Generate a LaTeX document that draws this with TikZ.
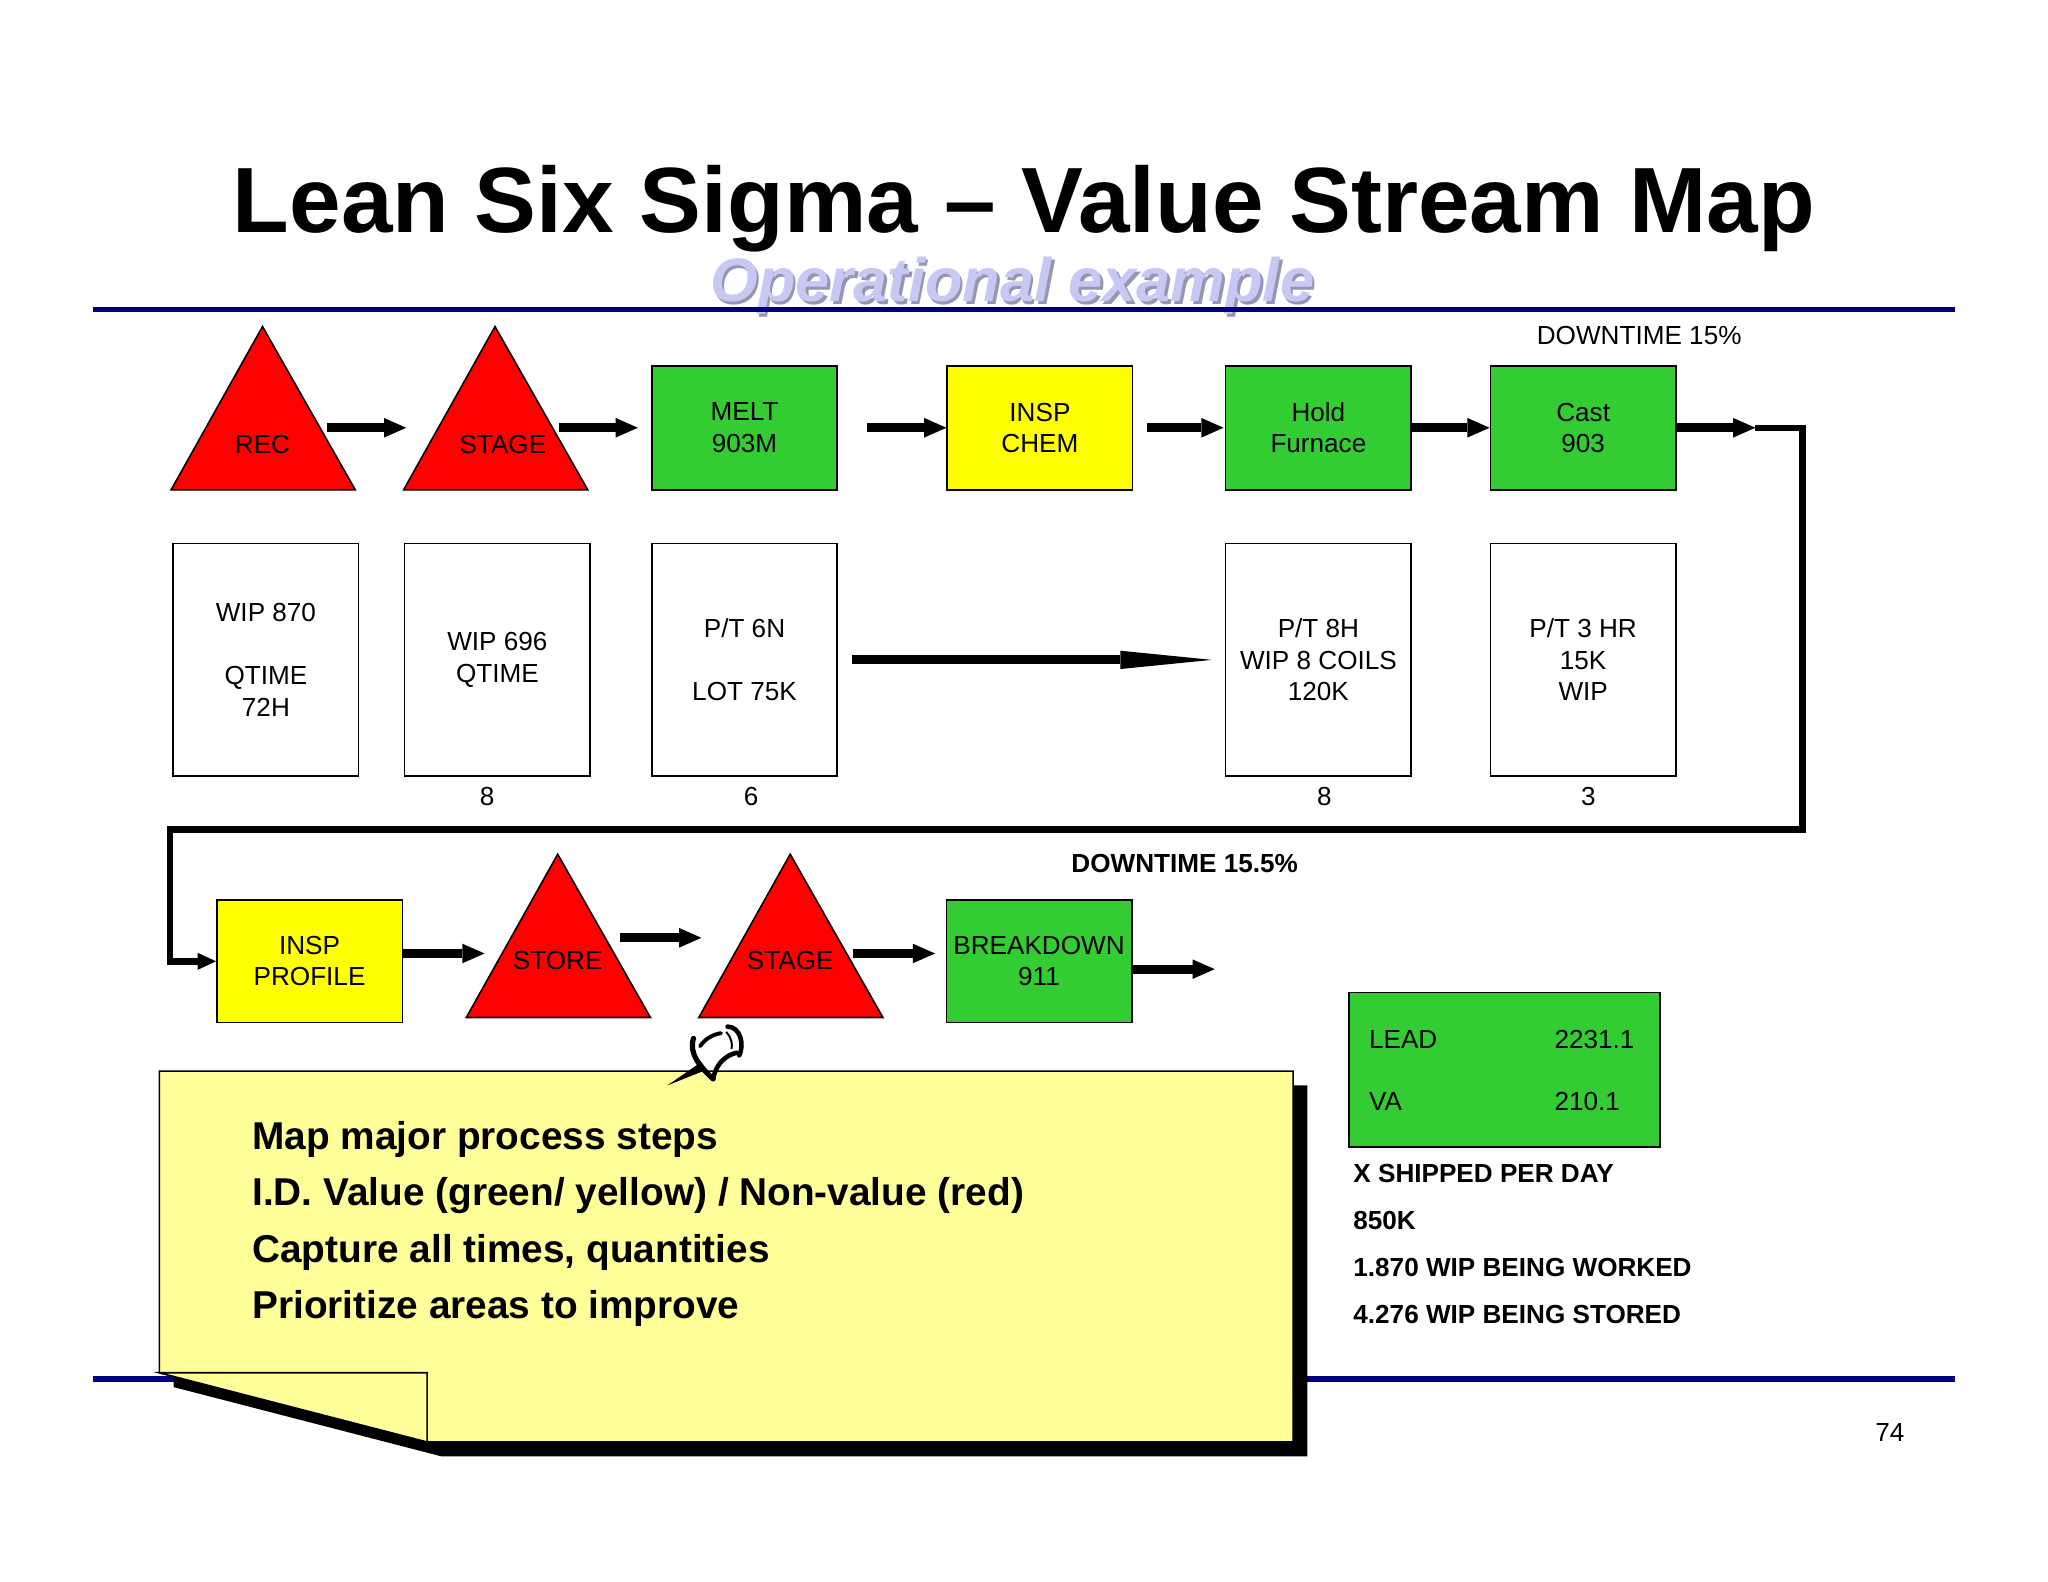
\documentclass[tikz,border=0pt]{standalone}
\usepackage{fontspec}
\setmainfont{Liberation Sans}
\usetikzlibrary{positioning,arrows.meta}

\definecolor{vsmred}{RGB}{255,0,0}
\definecolor{vsmgreen}{RGB}{51,204,51}
\definecolor{vsmyellow}{RGB}{255,255,0}
\definecolor{notefill}{RGB}{255,255,153}
\definecolor{rulenavy}{RGB}{0,0,128}
\definecolor{sublilac}{RGB}{200,200,245}
\definecolor{subshade}{RGB}{150,150,175}

\begin{document}
\begin{tikzpicture}[x=1pt,y=-1pt,
    every node/.style={inner sep=0pt, font=\fontsize{20}{24}\selectfont},
    proc/.style={draw, line width=1.2pt, minimum width=142pt, minimum height=95pt, align=center},
    valuebox/.style={proc, fill=vsmgreen},
    checkbox/.style={proc, fill=vsmyellow},
    databox/.style={draw, line width=1.2pt, minimum width=142pt, minimum height=178pt, align=center},
    waste/.style={draw, line width=1.2pt, fill=vsmred, line join=miter},
    flow/.style={line width=7pt, -{Triangle[length=17pt,width=15pt,line width=0pt]}},
    loopline/.style={line width=5pt, line join=miter, -{Triangle[length=14pt,width=13pt,line width=0pt]}},
    longflow/.style={line width=7pt, -{Triangle[length=70pt,width=14pt,line width=0pt]}},
    bold/.style={font=\fontsize{20}{24}\selectfont\bfseries},
    rule/.style={line width=4.5pt, draw=rulenavy}]

  \fill[white] (0,0) rectangle (1568,1211);
  \useasboundingbox (0,0) rectangle (1568,1211);

  % heading
  \node (title) [anchor=base, font=\fontsize{71}{85}\selectfont\bfseries] at (784,178) {Lean Six Sigma -- Value Stream Map};
  \node (subshadow) [anchor=base, font=\fontsize{47}{56}\selectfont\bfseries\itshape, text=subshade] at (777,233) {Operational example};
  \node (subtitle) [anchor=base, font=\fontsize{47}{56}\selectfont\bfseries\itshape, text=sublilac] at (775,231) {Operational example};
  \draw[rule] (71,237) -- (1497,237);
  \draw[rule] (71,1056) -- (1497,1056);

  % top row
  \draw[waste] (131,375) -- (201,250) -- (272,375) -- cycle;
  \draw[waste] (309,375) -- (379,250) -- (450,375) -- cycle;
  \node (recL) [anchor=base] at (201,347) {REC};
  \node (stageL) [anchor=base] at (385,347) {STAGE};

  \node (melt) [valuebox] at (570,327.5) {MELT\\903M};
  \node (chem) [checkbox, right=83pt of melt] {INSP\\CHEM};
  \node (hold) [valuebox, right=70pt of chem] {Hold\\Furnace};
  \node (cast) [valuebox, right=59.5pt of hold] {Cast\\903};
  \node (down1) [anchor=base] at (1255,264) {DOWNTIME 15\%};

  \coordinate (recout) at (250,327.5);
  \coordinate (stagein) at (311,327.5);
  \coordinate (stageout) at (428,327.5);
  \coordinate (bend) at (1344,327.5);
  \coordinate (loopright) at (1380,635);
  \coordinate (loopleft) at (130,635);

  \draw [flow] (recout) to (stagein);
  \draw [flow, shorten >=10pt] (stageout) to (melt);
  \draw [flow, shorten <=22pt] (melt) to (chem);
  \draw [flow, shorten <=10pt, shorten >=1pt] (chem) to (hold);
  \draw [flow] (hold) to (cast);
  \draw [flow] (cast) to (bend);

  % data boxes
  \node (wip3) [databox, below=40pt of melt] {P/T 6N\\[24pt]LOT 75K};
  \node (wip2) [databox, left=46pt of wip3] {WIP 696\\QTIME};
  \node (wip1) [databox, left=34pt of wip2] {WIP 870\\[24pt]QTIME\\72H};
  \node (wip4) [databox, below=40pt of hold] {P/T 8H\\WIP 8 COILS\\120K};
  \node (wip5) [databox, below=40pt of cast] {P/T 3 HR\\15K\\WIP};
  \draw [longflow, shorten <=11pt, shorten >=10pt] (wip3) to (wip4);

  \node (ops2) [anchor=base] at (373,617) {8};
  \node (ops3) [anchor=base] at (575,617) {6};
  \node (ops4) [anchor=base] at (1014,617) {8};
  \node (ops5) [anchor=base] at (1216,617) {3};

  % bottom row
  \node (profile) [checkbox, minimum height=94pt] at (237,736) {INSP\\PROFILE};
  \draw[waste] (357,779) -- (427,654) -- (498,779) -- cycle;
  \draw[waste] (535,779) -- (605,654) -- (676,779) -- cycle;
  \node (storeL) [anchor=base] at (427,742) {STORE};
  \node (stagetwoL) [anchor=base] at (605,742) {STAGE};
  \node (breakdown) [valuebox, minimum height=94pt] at (795.5,736) {BREAKDOWN\\911};
  \node (down2) [bold, anchor=base] at (907,668) {DOWNTIME 15.5\%};

  \draw [loopline] (bend) -| (loopright) -- (loopleft) |- (profile);

  \coordinate (storein) at (371,730);
  \coordinate (storeout) at (475,718);
  \coordinate (stagetwoin) at (537,718);
  \coordinate (stagetwoout) at (653,730);
  \coordinate (shipout) at (930,742);

  \draw [flow] ([yshift=6pt]profile.east) to (storein);
  \draw [flow] (storeout) to (stagetwoin);
  \draw [flow, shorten >=8pt] (stagetwoout) to ([yshift=6pt]breakdown.west);
  \draw [flow] ([yshift=-6pt]breakdown.east) to (shipout);

  % totals
  \node (lead) [valuebox, minimum width=238pt, minimum height=118pt] at (1152,819) {};
  \node (leadL) [anchor=base west] at (1048,803) {LEAD};
  \node (leadV) [anchor=base west] at (1190,803) {2231.1};
  \node (vaL) [anchor=base west] at (1048,850) {VA};
  \node (vaV) [anchor=base west] at (1190,850) {210.1};

  \node (shipped) [bold, anchor=base west] at (1036,905) {X SHIPPED PER DAY};
  \node (perday) [bold, anchor=base west] at (1036,941) {850K};
  \node (worked) [bold, anchor=base west] at (1036,977) {1.870 WIP BEING WORKED};
  \node (stored) [bold, anchor=base west] at (1036,1013) {4.276 WIP BEING STORED};

  % sticky note
  \fill (133,831) -- (1001,831) -- (1001,1115) -- (338,1115) -- (133,1062) -- cycle;
  \filldraw[fill=notefill, line width=1.2pt] (122,820) -- (990,820) -- (990,1104) -- (327,1104) -- (122,1051) -- cycle;
  \filldraw[fill=notefill, line width=1.2pt] (122,1051) -- (327,1051) -- (327,1104) -- cycle;
  \node (notetext) [anchor=north west, align=left, font=\fontsize{29.7}{43}\selectfont\bfseries] at (193,858.5)
    {Map major process steps\\I.D. Value (green/ yellow) / Non-value (red)\\Capture all times, quantities\\Prioritize areas to improve};

  % push pin
  \fill (511,831) -- (537,813) -- (541,819) -- cycle;
  \draw[line width=4pt, line cap=round] (531,795) .. controls (527,806) and (536,817) .. (546,826);
  \draw[line width=3pt, line cap=round] (536,801) .. controls (540,795) and (546,792) .. (552,791);
  \draw[line width=3.5pt, line cap=round] (557,786) .. controls (567,786) and (570,800) .. (566,808);
  \draw[line width=3.5pt, line cap=round] (546,826) .. controls (548,815) and (555,808) .. (564,806);
  \draw[line width=1.5pt] (556,790) .. controls (560,794) and (561,800) .. (560,803);

  \node (pagenum) [anchor=base] at (1447,1104) {74};
\end{tikzpicture}
\end{document}
